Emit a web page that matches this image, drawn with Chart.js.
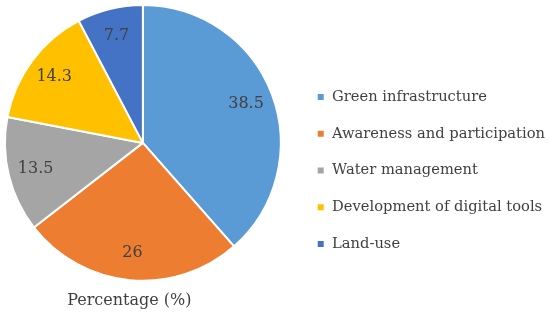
<!DOCTYPE html>
<html>
<head>
<meta charset="utf-8">
<script src="https://cdn.jsdelivr.net/npm/chart.js@4.4.1/dist/chart.umd.min.js"></script>
<style>
  body { margin: 0; background: #fff; }
  #wrap { width: 550px; height: 319px; }
</style>
</head>
<body>
<div id="wrap"><canvas id="PieChart"></canvas></div>
<script>
var categories = ["Green infrastructure", "Awareness and participation", "Water management", "Development of digital tools", "Land-use"];
var percentValues = [38.5, 26, 13.5, 14.3, 7.7];
var sliceColors = ["#5B9BD5", "#ED7D31", "#A5A5A5", "#FFC000", "#4472C4"];
var titleText = "Percentage (%)";

var fontName = "'Palatino Linotype', 'Book Antiqua', Palatino, 'DejaVu Serif', serif";
var textColor = "#404040";

// draw the numbers inside each slice
const sliceLabels = {
  id: 'sliceLabels',
  afterDatasetsDraw(chart) {
    const ctx = chart.ctx;
    const meta = chart.getDatasetMeta(0);
    ctx.save();
    ctx.font = "16px " + fontName;
    ctx.fillStyle = textColor;
    ctx.textAlign = 'center';
    ctx.textBaseline = 'middle';
    meta.data.forEach(function (arc, i) {
      const p = arc.getProps(['x', 'y', 'startAngle', 'endAngle', 'outerRadius']);
      const mid = (p.startAngle + p.endAngle) / 2;
      const r = p.outerRadius * 0.8;
      ctx.fillText(String(percentValues[i]), p.x + Math.cos(mid) * r, p.y + Math.sin(mid) * r);
    });
    ctx.restore();
  }
};

// pull the pie a bit away from the legend, and the title a bit left
const shiftPie = {
  id: 'shiftPie',
  afterLayout(chart) {
    const a = chart.chartArea;
    a.right -= 9;
    a.width = a.right - a.left;
    if (chart.titleBlock) {
      chart.titleBlock.left -= 18;
      chart.titleBlock.right -= 18;
    }
  }
};

const data = {
  labels: categories,
  datasets: [{
    data: percentValues,
    backgroundColor: sliceColors,
    borderColor: '#ffffff',
    borderWidth: 2
  }]
};

const configPie = {
  type: 'pie',
  data: data,
  options: {
    responsive: true,
    maintainAspectRatio: false,
    animation: false,
    layout: { padding: { left: 0, top: 4, right: -5, bottom: 0 } },
    plugins: {
      tooltip: { enabled: false },
      title: {
        display: true,
        text: titleText,
        position: 'bottom',
        fullSize: false,
        color: textColor,
        font: { family: fontName, size: 16, weight: 'normal' },
        padding: { top: 9, bottom: 9 }
      },
      legend: {
        position: 'right',
        align: 'center',
        title: {
          display: true,
          text: ' ',
          font: { size: 12 },
          padding: { top: 0, bottom: 3.6 }
        },
        labels: {
          color: textColor,
          font: { family: fontName, size: 14.7 },
          boxWidth: 8,
          boxHeight: 8,
          padding: 22
        }
      }
    }
  },
  plugins: [sliceLabels, shiftPie]
};

new Chart(document.getElementById('PieChart'), configPie);
</script>
</body>
</html>
